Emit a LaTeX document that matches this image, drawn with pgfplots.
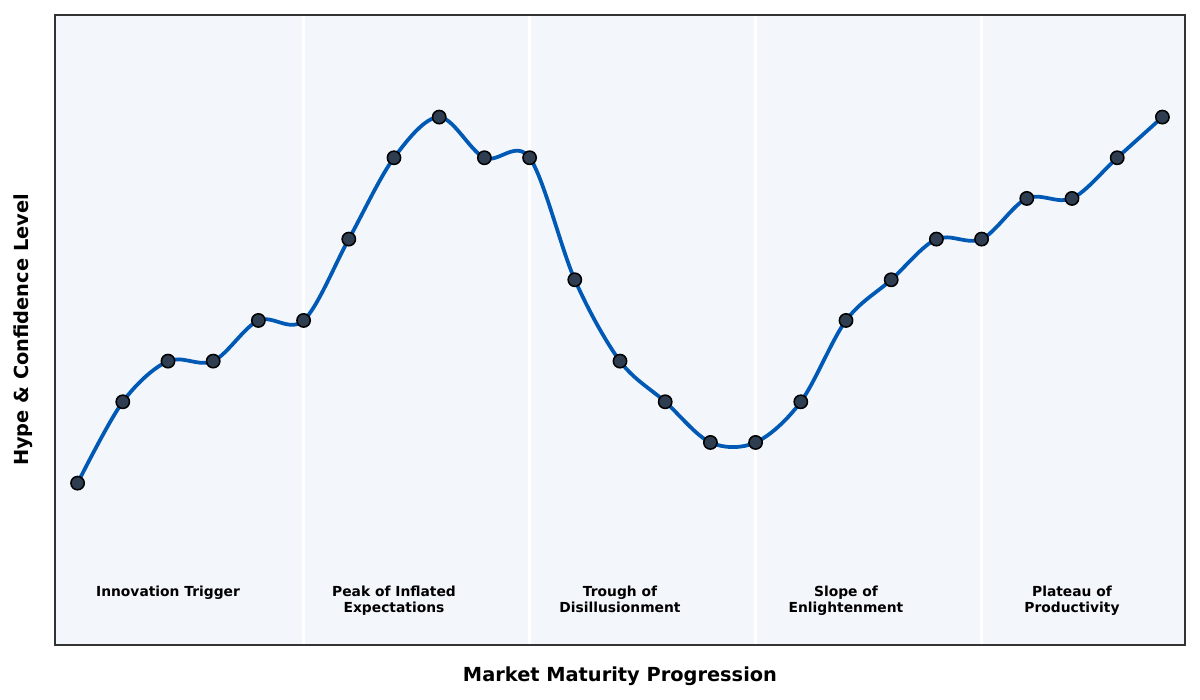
\documentclass[border=0pt]{standalone}
\usepackage{pgfplots}
\pgfplotsset{compat=1.18}
\usepackage{fontspec}
\setmainfont{DejaVu Sans}
\definecolor{bgc}{HTML}{F3F6FA}
\definecolor{framec}{HTML}{333333}
\definecolor{linec}{HTML}{005AB5}
\definecolor{markc}{HTML}{2E3D4F}
\begin{document}
\begin{tikzpicture}
\path[use as bounding box] (-39.6bp,-39.6bp) rectangle (824.4bp,464.4bp);
\begin{axis}[
  at={(0,0)}, anchor=south west,
  scale only axis, width=813.6bp, height=453.6bp,
  xmin=-0.5, xmax=24.5, ymin=-2.98, ymax=12.51,
  ticks=none,
  axis background/.style={fill=bgc},
  axis line style={draw=framec, line width=1.1pt},
  axis on top,
  xlabel={Market Maturity Progression},
  ylabel={Hype \& Confidence Level},
  xlabel style={at={(axis description cs:0.5,0)}, anchor=center, yshift=-22.6bp, font=\bfseries\fontsize{14}{17}\selectfont},
  ylabel style={at={(axis description cs:0,0.5)}, anchor=center, yshift=23bp, font=\bfseries\fontsize{14}{17}\selectfont},
]
\foreach \xx in {5,10,15,20} {
  \edef\temp{\noexpand\draw[white, line width=2.2bp] (axis cs:\xx,-2.98) -- (axis cs:\xx,12.51);}
  \temp
}
\addplot[linec, line width=2.7bp, smooth, tension=0.55,
  mark=*, mark size=4.8bp, mark options={fill=markc, draw=black, line width=1.1bp}]
  coordinates {
  (0,1) (1,3) (2,4) (3,4) (4,5) (5,5) (6,7) (7,9) (8,10) (9,9)
  (10,9) (11,6) (12,4) (13,3) (14,2) (15,2) (16,3) (17,5) (18,6) (19,7)
  (20,7) (21,8) (22,8) (23,9) (24,10)
  };
\tikzset{phase/.style={anchor=north, inner sep=0pt, align=center, font=\bfseries\fontsize{10}{11.5}\selectfont}}
\node[phase] at (axis cs:2,-1.53) {Innovation Trigger};
\node[phase] at (axis cs:7,-1.53) {Peak of Inflated\\Expectations};
\node[phase] at (axis cs:12,-1.53) {Trough of\\Disillusionment};
\node[phase] at (axis cs:17,-1.53) {Slope of\\Enlightenment};
\node[phase] at (axis cs:22,-1.53) {Plateau of\\Productivity};
\end{axis}
\end{tikzpicture}
\end{document}
